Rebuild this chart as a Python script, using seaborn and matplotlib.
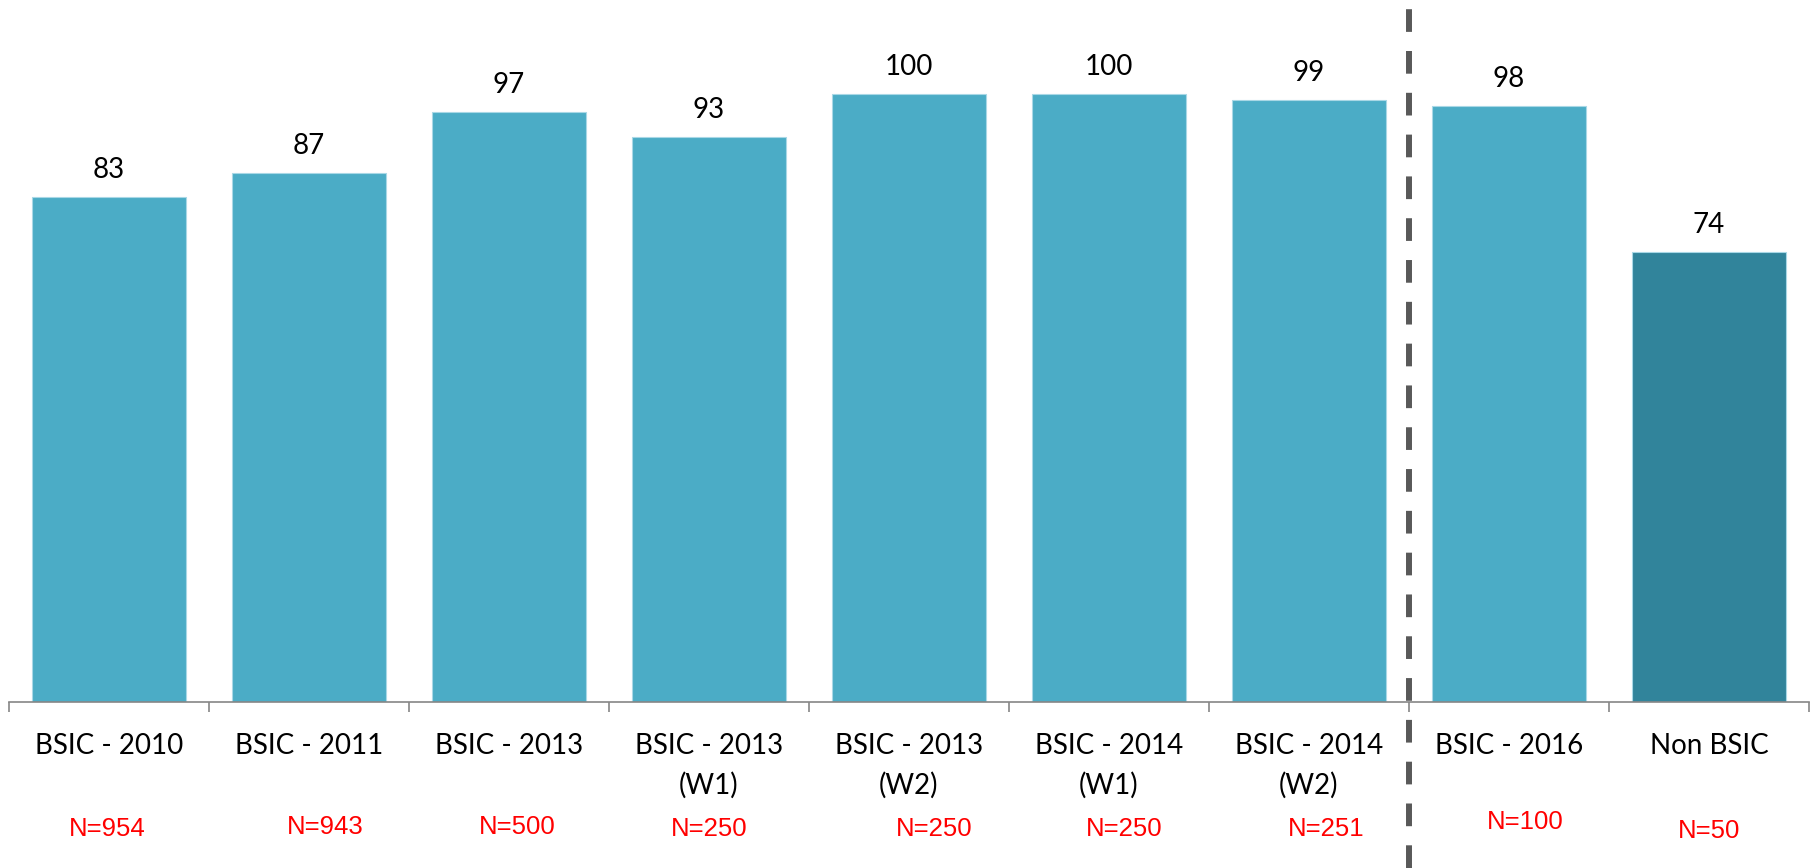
import matplotlib
matplotlib.use("Agg")
import matplotlib.pyplot as plt
import seaborn as sns
import pandas as pd

# ---- data ----
categories = ["BSIC - 2010", "BSIC - 2011", "BSIC - 2013", "BSIC - 2013\n(W1)",
              "BSIC - 2013\n(W2)", "BSIC - 2014\n(W1)", "BSIC - 2014\n(W2)",
              "BSIC - 2016", "Non BSIC"]
values = [83, 87, 97, 93, 100, 100, 99, 98, 74]
sample_sizes = ["N=954", "N=943", "N=500", "N=250", "N=250", "N=250", "N=251", "N=100", "N=50"]
groups = ["BSIC"] * 8 + ["Non BSIC"]

# ---- layout (label placement offsets, in category units / axes fraction) ----
n_dx = [-0.01, 0.08, 0.04, 0.0, 0.125, 0.075, 0.085, 0.08, 0.0]
n_dy = [0.0, 0.003, 0.004, 0.0, 0.0, 0.0, 0.0, 0.01, -0.002]

sns.set_theme(style="white")
plt.rcParams['font.family'] = ['Lato', 'DejaVu Sans']

W, H = 1812, 868
base_y = 702.0          # pixel row of the baseline
px_per_unit = 6.08
fig = plt.figure(figsize=(W / 100, H / 100), dpi=100)
ax = fig.add_axes([9 / W, (H - base_y) / H, 1800 / W, base_y / H])

df = pd.DataFrame({"cat": categories, "val": values, "grp": groups})
sns.barplot(data=df, x="cat", y="val", hue="grp",
            palette={"BSIC": "#4BACC6", "Non BSIC": "#31849B"},
            dodge=False, width=0.77, saturation=1, legend=False, ax=ax,
            edgecolor="#A9D8E6", linewidth=0.8)

ax.set_xlim(-0.5, 8.5)
ax.set_ylim(0, base_y / px_per_unit)
ax.set_xlabel("")
ax.set_ylabel("")
ax.set_yticks([])
for s in ["top", "right", "left"]:
    ax.spines[s].set_visible(False)
ax.spines["bottom"].set_color("#868686")
ax.spines["bottom"].set_linewidth(1.2)
ax.spines["bottom"].set_zorder(5)

ax.tick_params(axis="x", which="major", length=0, pad=22.5, labelsize=20, labelcolor="black")
ax.set_xticks(range(len(categories)))
ax.set_xticklabels(categories, linespacing=1.58)
ax.set_xticks([i - 0.5 for i in range(len(categories) + 1)], minor=True)
ax.tick_params(axis="x", which="minor", length=7, width=1.2, color="#868686", direction="out", bottom=True)

for cont in ax.containers:
    ax.bar_label(cont, fmt="%d", padding=10, fontsize=20, color="black")

for i, txt in enumerate(sample_sizes):
    ax.text(i + n_dx[i], -0.1816 + n_dy[i], txt, transform=ax.get_xaxis_transform(),
            ha="center", va="center", color="#FF0000", fontsize=18.5,
            family=["Liberation Sans", "DejaVu Sans"])

ax.axvline(6.5, ymin=-(H - base_y) / base_y, ymax=0.99, clip_on=False,
           color="#595959", linewidth=4.3, dashes=(3.8, 3.2))

fig.savefig("out.png", dpi=100)
